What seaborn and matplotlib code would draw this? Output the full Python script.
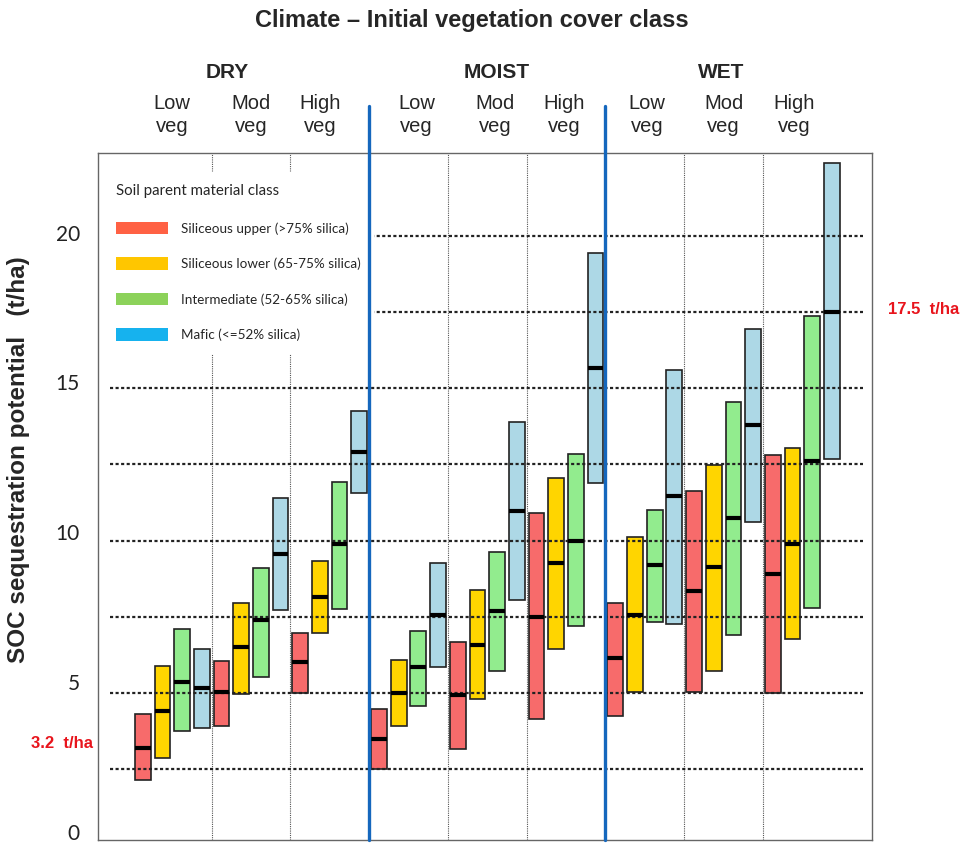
import numpy as np
import pandas as pd
import seaborn as sns
import matplotlib
matplotlib.use('Agg')
import matplotlib.pyplot as plt
from matplotlib.patches import Patch

# categories
climates = ['DRY', 'MOIST', 'WET']
veg_classes = ['Low\nveg', 'Mod\nveg', 'High\nveg']
soil_classes = ['Siliceous upper (>75% silica)', 'Siliceous lower (65-75% silica)',
                'Intermediate (52-65% silica)', 'Mafic (<=52% silica)']
tick_vals = [0, 5, 10, 15, 20]

# min / median / max, order: DRY low, mod, high, MOIST low, mod, high, WET low, mod, high
upper_min = [2.15, 3.93, 4.99, 2.50, 3.17, 4.14, 4.26, 5.04, 4.99]
upper_med = [3.20, 5.02, 6.01, 3.48, 4.94, 7.50, 6.16, 8.36, 8.90]
upper_max = [4.31, 6.06, 6.97, 4.48, 6.69, 10.90, 7.96, 11.63, 12.80]

lower_min = [2.88, 4.97, 6.97, 3.91, 4.82, 6.45, 5.04, 5.72, 6.78]
lower_med = [4.42, 6.50, 8.15, 5.00, 6.59, 9.26, 7.55, 9.14, 9.90]
lower_max = [5.88, 7.96, 9.35, 6.08, 8.39, 12.05, 10.12, 12.49, 13.05]

inter_min = [3.74, 5.52, 7.76, 4.58, 5.72, 7.19, 7.34, 6.90, 7.80]
inter_med = [5.38, 7.40, 9.88, 5.85, 7.68, 10.00, 9.21, 10.73, 12.61]
inter_max = [7.11, 9.11, 11.92, 7.05, 9.63, 12.85, 11.02, 14.55, 17.36]

mafic_min = [3.85, 7.71, 11.55, 5.85, 8.06, 11.90, 7.26, 10.60, 12.68]
mafic_med = [5.16, 9.55, 12.92, 7.55, 10.98, 15.66, 11.46, 13.78, 17.51]
mafic_max = [6.44, 11.39, 14.24, 9.26, 13.88, 19.44, 15.61, 16.95, 22.39]

bar_colors = ['#F76B6B', '#FFD500', '#92EC8E', '#ADD8E6']
legend_colors = ['#FF6144', '#FFC600', '#8CD25A', '#16B2EE']

mins = [upper_min, lower_min, inter_min, mafic_min]
meds = [upper_med, lower_med, inter_med, mafic_med]
maxs = [upper_max, lower_max, inter_max, mafic_max]

rows = []
for k, soil in enumerate(soil_classes):
    for g in range(9):
        rows.append({'soil': soil, 'pos': 4 * g + k, 'low': mins[k][g],
                     'med': meds[k][g], 'high': maxs[k][g]})
df = pd.DataFrame(rows)
df['span'] = df['high'] - df['low']

sns.set_style('white')
plt.rcParams['font.family'] = ['Liberation Sans', 'DejaVu Sans']

fig = plt.figure(figsize=(9.65, 8.43), dpi=100)
ax = fig.add_axes([98 / 965, 1 - 840 / 843, 774 / 965, 687 / 843])

for k, soil in enumerate(soil_classes):
    sub = df[df['soil'] == soil].sort_values('pos')
    sns.barplot(data=sub, x='pos', y='span', native_scale=True, width=0.2,
                bottom=sub['low'].values, color=bar_colors[k], saturation=1,
                edgecolor='#222222', linewidth=1.2, errorbar=None, ax=ax, zorder=2)
    ax.hlines(sub['med'], sub['pos'] - 0.4, sub['pos'] + 0.4, color='black',
              lw=3.0, zorder=5)

ax.set_xlim(-2.27, 37.04)
ax.set_ylim(0.18, 22.72)
ax.set_xlabel('')
ax.set_ylabel('')
ax.set_xticks([])

# dotted reference lines
for yv in np.arange(2.5, 20.1, 2.5):
    ax.axhline(yv, xmin=12 / 774, xmax=765 / 774, color='#222222', lw=1.6,
               ls=(0, (1.4, 1.1)), zorder=4)

# separators between vegetation classes
for xv in [3.5, 7.5, 15.5, 19.5, 27.5, 31.5]:
    ax.axvline(xv, color='#555555', lw=0.8, ls=(0, (1, 1)), zorder=1)
for xv in [11.5, 23.5]:
    ax.axvline(xv, ymin=0, ymax=1 + 47 / 687, color='#1567BD', lw=2.4,
               clip_on=False, zorder=8)

for side in ['left', 'right', 'top', 'bottom']:
    ax.spines[side].set_visible(True)
    ax.spines[side].set_color('#666666')
    ax.spines[side].set_linewidth(1.0)

# the tick labels in the source sit on a slightly different scale than the grid
ax.set_yticks([(845.5 - 832.5 + 30 * v) / 30.48 for v in tick_vals])
ax.set_yticklabels([str(v) for v in tick_vals], family=['Lato', 'DejaVu Sans'],
                   fontsize=15, color='#222222')
ax.tick_params(axis='y', length=0, pad=13)

# group labels
xt = ax.get_xaxis_transform()
veg_x = [1.49, 5.5, 9.0, 13.9, 17.9, 21.4, 25.6, 29.5, 33.1]
for xv, lab in zip(veg_x, veg_classes * 3):
    ax.text(xv, 1 + 38 / 687, lab, transform=xt, ha='center', va='center',
            fontsize=14.5, linespacing=1.3,
            family=['Liberation Sans Narrow', 'Liberation Sans', 'DejaVu Sans'])
for xv, lab in zip([4.3, 18.0, 29.4], climates):
    ax.text(xv, 1 + 81 / 687, lab, transform=xt, ha='center', va='center',
            fontsize=15, fontweight='bold')

fig.text(472 / 965, 1 - 20 / 843, 'Climate \u2013 Initial vegetation cover class',
         ha='center', va='center', fontsize=17, fontweight='bold')
fig.text(19 / 965, 1 - 460 / 843, 'SOC sequestration potential   (t/ha)',
         rotation=90, ha='center', va='center', fontsize=17.5, fontweight='bold')

yt = ax.get_yaxis_transform()
ax.text(-0.006, 3.35, '3.2  t/ha', transform=yt, ha='right', va='center',
        color='#E8141C', fontsize=12, fontweight='bold')
ax.text(1.021, 17.6, '17.5  t/ha', transform=yt, ha='left', va='center',
        color='#E8141C', fontsize=12, fontweight='bold', clip_on=False)

handles = [Patch(facecolor=c, edgecolor='none') for c in legend_colors]
leg = ax.legend(handles, soil_classes, title='Soil parent material class',
                loc='upper left', bbox_to_anchor=(0.008, 0.972), frameon=True,
                fancybox=False, framealpha=1, edgecolor='white', facecolor='white',
                borderaxespad=0, borderpad=0.9, handlelength=3.85, handleheight=1.05,
                labelspacing=1.68, handletextpad=0.95, alignment='left',
                prop={'family': ['Lato', 'DejaVu Sans'], 'size': 9.7},
                title_fontproperties={'family': ['Lato', 'DejaVu Sans'], 'size': 10.8})
leg.set_zorder(7)
leg._legend_box.sep = 17

fig.savefig('out.png', dpi=100)
